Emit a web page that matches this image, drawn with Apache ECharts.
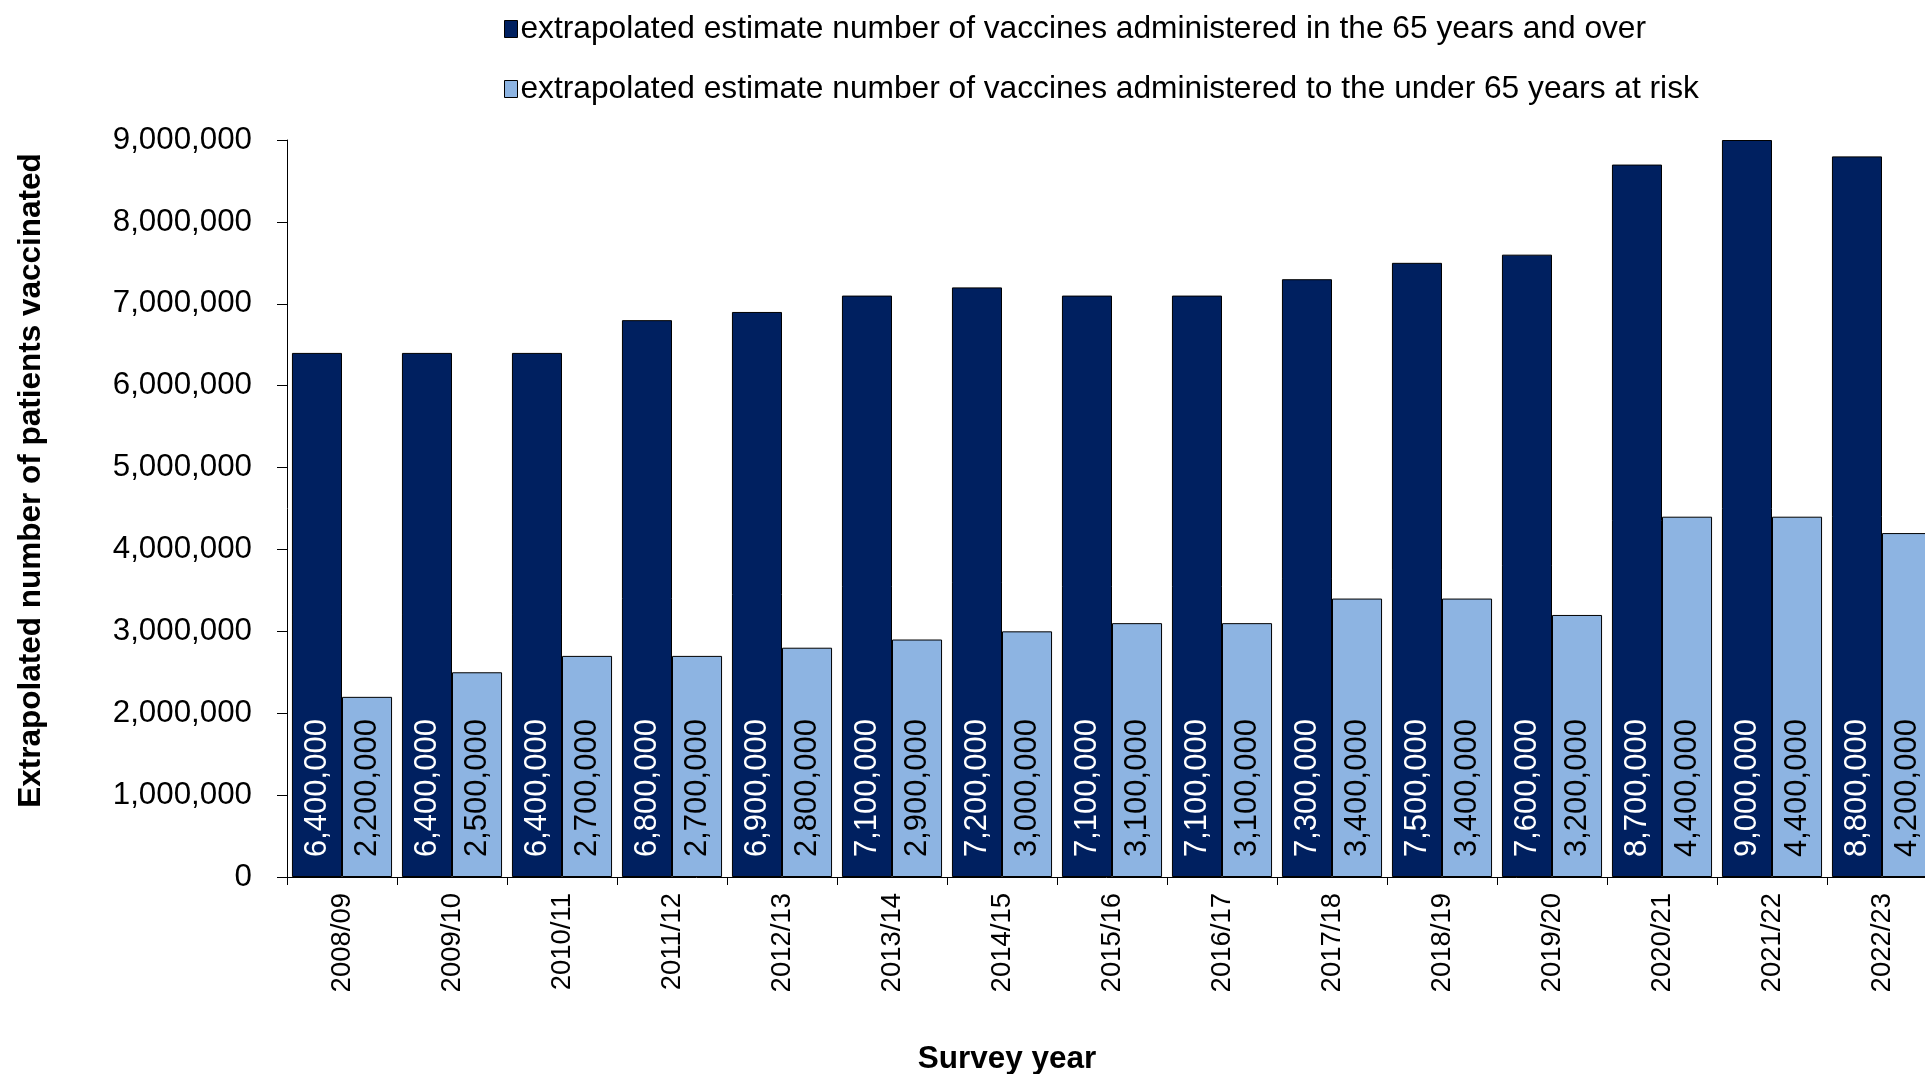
<!DOCTYPE html>
<html>
<head>
<meta charset="utf-8">
<script src="https://cdn.jsdelivr.net/npm/echarts@6/dist/echarts.min.js"></script>
<style>
html,body{margin:0;padding:0;background:#fff;overflow:hidden;}
#chart{width:1925px;height:1074px;}
</style>
</head>
<body>
<div id="chart"></div>
<script>
const categories = ['2008/09','2009/10','2010/11','2011/12','2012/13','2013/14','2014/15','2015/16','2016/17','2017/18','2018/19','2019/20','2020/21','2021/22','2022/23'];
const over65 = [6400000,6400000,6400000,6800000,6900000,7100000,7200000,7100000,7100000,7300000,7500000,7600000,8700000,9000000,8800000];
const under65AtRisk = [2200000,2500000,2700000,2700000,2800000,2900000,3000000,3100000,3100000,3400000,3400000,3200000,4400000,4400000,4200000];
const seriesNames = ['extrapolated estimate number of vaccines administered in the 65 years and over','extrapolated estimate number of vaccines administered to the under 65 years at risk'];

const FONT = "'Liberation Sans', Arial, sans-serif";
const fmt = v => String(v).replace(/\B(?=(\d{3})+(?!\d))/g, ',');

const chart = echarts.init(document.getElementById('chart'), null, {renderer:'canvas'});
chart.setOption({
  animation:false,
  backgroundColor:'#ffffff',
  textStyle:{fontFamily:FONT},
  legend:{
    orient:'vertical', left:499, top:8,
    itemWidth:13, itemHeight:17, itemGap:28,
    icon:'rect',
    textStyle:{fontSize:31.7, color:'#000', fontFamily:FONT, lineHeight:31, padding:[0,0,0,-2]},
    itemStyle:{borderColor:'#000', borderWidth:1}
  },
  grid:{left:287, top:140, width:1650, height:737, outerBoundsMode:'none', containLabel:false},
  xAxis:{
    type:'category', data:categories,
    name:'Survey year', nameLocation:'middle', nameGap:166,
    nameTextStyle:{fontSize:31.5, fontWeight:'bold', color:'#000', fontFamily:FONT, padding:[0,210,0,0]},
    axisLine:{lineStyle:{color:'#000', width:1}},
    axisTick:{show:true, length:8, lineStyle:{color:'#000'}},
    axisLabel:{rotate:90, fontSize:27.5, color:'#000', margin:16, fontFamily:FONT, interval:0}
  },
  yAxis:{
    type:'value', min:0, max:9000000, interval:1000000,
    name:'Extrapolated number of patients vaccinated', nameLocation:'middle', nameGap:240,
    nameTextStyle:{fontSize:31.5, fontWeight:'bold', color:'#000', fontFamily:FONT, padding:[0,0,0,56]},
    axisLine:{show:true, lineStyle:{color:'#000', width:1}},
    axisTick:{show:true, length:10, lineStyle:{color:'#000'}},
    splitLine:{show:false},
    axisLabel:{fontSize:31.3, color:'#000', margin:35, fontFamily:FONT, formatter:fmt}
  },
  series:[
    {
      name:seriesNames[0], type:'bar', data:over65,
      barGap:'0%', barCategoryGap:'9%',
      itemStyle:{color:'#002060', borderColor:'#000', borderWidth:1},
      label:{show:true, position:'insideBottom', rotate:90, align:'left', verticalAlign:'middle', distance:20,
        fontSize:31, color:'#fff', fontFamily:FONT, formatter:p=>fmt(p.value)}
    },
    {
      name:seriesNames[1], type:'bar', data:under65AtRisk,
      barGap:'0%', barCategoryGap:'9%',
      itemStyle:{color:'#8DB4E2', borderColor:'#000', borderWidth:1},
      label:{show:true, position:'insideBottom', rotate:90, align:'left', verticalAlign:'middle', distance:20,
        fontSize:31, color:'#000', fontFamily:FONT, formatter:p=>fmt(p.value)}
    }
  ]
});
</script>
</body>
</html>
